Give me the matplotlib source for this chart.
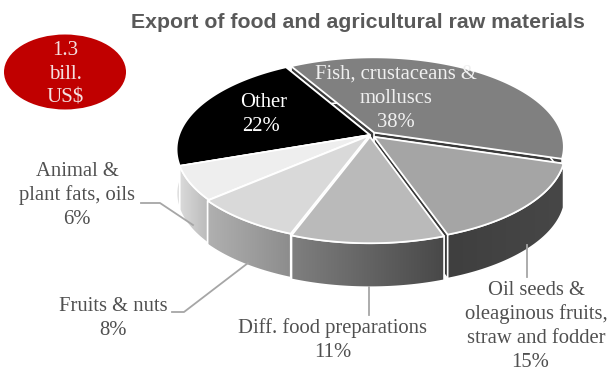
import numpy as np
import matplotlib
matplotlib.use("Agg")
import matplotlib.pyplot as plt
from matplotlib.patches import Ellipse, Polygon

names = ["Fish, crustaceans &\nmolluscs", "Oil seeds &\noleaginous fruits,\nstraw and fodder",
         "Diff. food preparations", "Fruits & nuts", "Animal &\nplant fats, oils", "Other"]
shares = [38, 15, 11, 8, 6, 22]
top_colors = ["#808080", "#a5a5a5", "#bababa", "#d9d9d9", "#eeeeee", "#000000"]
wall_left = ["#3c3c3c", "#3f3f3f", "#7f7f7f", "#b0b0b0", "#dadada", "#dadada"]
wall_right = ["#3c3c3c", "#474747", "#484848", "#8c8c8c", "#b8b8b8", "#dadada"]
face_colors = ["#3a3a3a", "#3a3a3a", "#b0b0b0", "#d0d0d0", "#e0e0e0", "#dadada"]
explode = [0.035, 0.03, 0.02, 0.008, 0.0, 0.0]
radius = [0.985, 0.985, 1.0, 1.0, 1.0, 1.0]

total_label = "1.3\nbill.\nUS$"
title = "Export of food and agricultural raw materials"

# pie geometry in pixels
cx, cy = 370, 135
A, B, k = 191.0, 89.0, 0.158
depth = 44
start = -30.0

serif = "Liberation Serif"
fs = 14.9
line_step = 24

fig = plt.figure(figsize=(6.08, 3.72), dpi=100)
ax = fig.add_axes([0, 0, 1, 1])


def project(u, v):
    w = 1 - k * v
    return cx + A * u / w, cy + B * v / w


def setup():
    ax.set_xlim(0, 608)
    ax.set_ylim(372, 0)
    ax.axis("off")


def gradient_poly(xy, c0, c1, z):
    # horizontal gradient clipped to the polygon
    xy = np.asarray(xy)
    x0, x1 = xy[:, 0].min(), xy[:, 0].max()
    y0, y1 = xy[:, 1].min(), xy[:, 1].max()
    g0 = matplotlib.colors.to_rgb(c0)
    g1 = matplotlib.colors.to_rgb(c1)
    t = np.linspace(0, 1, 200)[:, None]
    img = (np.array(g0) * (1 - t) + np.array(g1) * t)[None, :, :]
    im = ax.imshow(img, extent=[x0, x1, y1, y0], aspect="auto", zorder=z)
    clip = Polygon(xy, closed=True, transform=ax.transData, fc="none", ec="none")
    ax.add_patch(clip)
    im.set_clip_path(clip)


edges = np.cumsum([0] + shares) * 3.6 + start
mids = (edges[:-1] + edges[1:]) / 2
order = np.argsort(-np.cos(np.radians(mids)))

z = 2
for i in order:
    th = np.radians(np.linspace(edges[i], edges[i + 1], 80))
    m = np.radians(mids[i])
    ou, ov = explode[i] * np.sin(m), -explode[i] * np.cos(m)
    r = radius[i]
    rx, ry = project(r * np.sin(th) + ou, -r * np.cos(th) + ov)
    ax0, ay0 = project(ou, ov)

    # radial faces, seen through the gaps between slices
    for rim_x, rim_y in [(rx[0], ry[0]), (rx[-1], ry[-1])]:
        face = [(ax0, ay0), (rim_x, rim_y), (rim_x, rim_y + depth), (ax0, ay0 + depth)]
        ax.add_patch(Polygon(face, closed=True, fc=face_colors[i], ec="white", lw=1.0, zorder=z))
    z += 1

    # outer wall
    wall = np.r_[np.c_[rx, ry], np.c_[rx, ry + depth][::-1]]
    gradient_poly(wall, wall_left[i], wall_right[i], z)
    ax.add_patch(Polygon(wall, closed=True, fc="none", ec="white", lw=1.2, zorder=z + 0.5))
    z += 1

    # top surface
    top = np.r_[[(ax0, ay0)], np.c_[rx, ry]]
    ax.add_patch(Polygon(top, closed=True, fc=top_colors[i], ec="white", lw=1.3, zorder=z))
    z += 1

setup()

# leader lines
lead = "#a6a6a6"
zl = z + 1
ax.plot([141, 160, 193], [203, 203, 225], color=lead, lw=1.3, zorder=zl)
ax.plot([172, 184, 248], [312, 312, 263], color=lead, lw=1.3, zorder=zl)
ax.plot([369, 369], [287, 315], color=lead, lw=1.3, zorder=zl)
ax.plot([527, 527], [245, 277], color=lead, lw=1.3, zorder=zl)

# slice labels, one text per line so the spacing stays even
label_x = [396, 536, 333, 113, 77, 264]
label_base = [79, 295, 333, 311, 176, 107]
pct_dx = [0, -6, 0, 0, 0, -3]
label_col = ["#f0f0f0", "#505050", "#505050", "#505050", "#505050", "#ffffff"]
for i in range(len(names)):
    lines = names[i].split("\n")
    for j, line in enumerate(lines):
        ax.text(label_x[i], label_base[i] + j * line_step, line, family=serif, fontsize=fs,
                color=label_col[i], ha="center", va="baseline", zorder=zl + 1)
    ax.text(label_x[i] + pct_dx[i], label_base[i] + len(lines) * line_step, f"{shares[i]}%", family=serif,
            fontsize=fs, color=label_col[i], ha="center", va="baseline", zorder=zl + 1)

# total badge
ax.add_patch(Ellipse((65, 72), 122, 75, fc="#c00000", ec="none", zorder=zl))
for j, line in enumerate(total_label.split("\n")):
    ax.text(65, 55 + j * line_step, line, family=serif, fontsize=15, color="#f4e0e0", ha="center",
            va="baseline", zorder=zl + 1)

ax.text(358, 23, title, family="Liberation Sans", fontweight="bold", fontsize=15.3, color="#595959",
        ha="center", va="center", zorder=zl)

setup()
fig.savefig("out.png", dpi=100)
